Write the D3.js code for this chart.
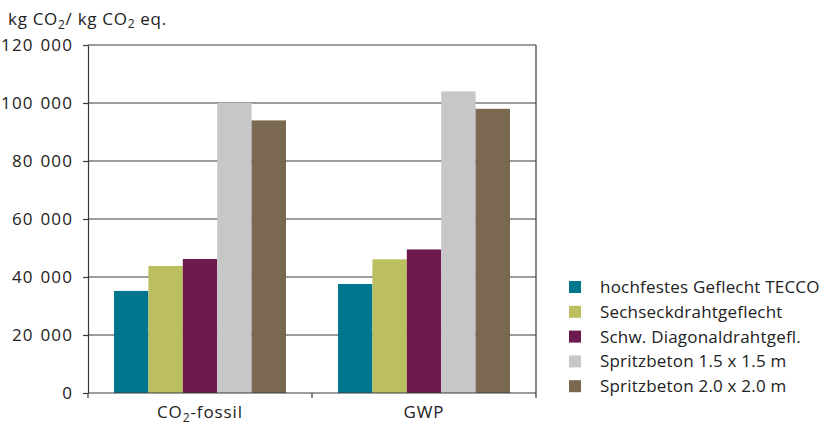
<!DOCTYPE html>
<html>
<head>
<meta charset="utf-8">
<script src="https://cdn.jsdelivr.net/npm/d3@7"></script>
<style>
  html, body { margin: 0; padding: 0; background: #fff; }
  svg text { font-family: "Open Sans", "Noto Sans", sans-serif; fill: #222; }
</style>
</head>
<body>
<svg id="chart" width="824" height="425"></svg>
<script>
// Emission categories and the five protection systems
const categories = ["CO2-fossil", "GWP"];
const series = [
  "hochfestes Geflecht TECCO",
  "Sechseckdrahtgeflecht",
  "Schw. Diagonaldrahtgefl.",
  "Spritzbeton 1.5 x 1.5 m",
  "Spritzbeton 2.0 x 2.0 m"
];
// values per series, one entry per category
const tecco       = [35200, 37600];
const sechseck    = [43800, 46100];
const diagonal    = [46200, 49500];
const spritz15    = [100000, 104000];
const spritz20    = [94000, 98000];
const seriesValues = [tecco, sechseck, diagonal, spritz15, spritz20];
const yTicks = [0, 20000, 40000, 60000, 80000, 100000, 120000];
const colors = ["#00768f", "#bcbf60", "#6d1b4f", "#c6c7c6", "#7a6950"];

const svg = d3.select("#chart");
const m = { left: 88, right: 536, top: 45, bottom: 393 };
const ink = "#3a3a3a";

const x = d3.scaleBand().domain(categories).range([m.left, m.right]).paddingInner(0).paddingOuter(0);
const inner = d3.scaleBand().domain(series).range([0, 172]);
const groupOffset = (x.bandwidth() - 172) / 2;
const y = d3.scaleLinear().domain([0, 120000]).range([m.bottom, m.top]);

// horizontal gridlines
svg.append("g").selectAll("line").data(yTicks.filter(d => d > 0)).join("line")
  .attr("x1", m.left).attr("x2", m.right)
  .attr("y1", d => y(d)).attr("y2", d => y(d))
  .attr("stroke", ink).attr("stroke-width", 1.2);

// bars
const flat = [];
categories.forEach((c, ci) => series.forEach((s, si) => flat.push({ c, s, si, v: seriesValues[si][ci] })));
svg.append("g").selectAll("rect").data(flat).join("rect")
  .attr("x", d => x(d.c) + groupOffset + inner(d.s))
  .attr("width", inner.bandwidth())
  .attr("y", d => y(d.v))
  .attr("height", d => y(0) - y(d.v))
  .attr("fill", d => colors[d.si]);

// frame: right border
svg.append("line").attr("x1", m.right).attr("x2", m.right).attr("y1", m.top).attr("y2", m.bottom)
  .attr("stroke", ink).attr("stroke-width", 1.2);

// y axis
const yAxis = d3.axisLeft(y).tickValues(yTicks).tickSize(5).tickSizeOuter(0)
  .tickFormat(d => d3.format(",")(d).replace(/,/g, " "));
const gy = svg.append("g").attr("transform", `translate(${m.left},0)`).call(yAxis);
gy.select(".domain").attr("stroke", ink).attr("stroke-width", 1.2);
gy.selectAll(".tick line").attr("stroke", ink).attr("stroke-width", 1.2);
gy.selectAll(".tick text").attr("x", -15).attr("font-size", 17).attr("fill", "#222")
  .attr("letter-spacing", 1.1).attr("word-spacing", 1.5)
  .style("font-family", '"Open Sans", "Noto Sans", sans-serif');

// x axis with ticks between categories
const gx = svg.append("g");
gx.append("line").attr("x1", m.left).attr("x2", m.right).attr("y1", m.bottom).attr("y2", m.bottom)
  .attr("stroke", ink).attr("stroke-width", 1.2);
const bounds = [m.left, x(categories[1]), m.right];
gx.selectAll(".bt").data(bounds).join("line")
  .attr("x1", d => d).attr("x2", d => d).attr("y1", m.bottom).attr("y2", m.bottom + 5)
  .attr("stroke", ink).attr("stroke-width", 1.2);

// category labels
const lab0 = svg.append("text").attr("x", x(categories[0]) + x.bandwidth() / 2).attr("y", 418)
  .attr("text-anchor", "middle").attr("font-size", 17).attr("letter-spacing", 0.9);
lab0.append("tspan").text("CO");
lab0.append("tspan").attr("font-size", 12).attr("dy", 4).text("2");
lab0.append("tspan").attr("dy", -4).text("-fossil");
svg.append("text").attr("x", x(categories[1]) + x.bandwidth() / 2).attr("y", 418)
  .attr("text-anchor", "middle").attr("font-size", 17).attr("letter-spacing", 0.9).text(categories[1]);

// unit label
const unit = svg.append("text").attr("x", 8).attr("y", 25).attr("font-size", 17).attr("letter-spacing", 0.7);
unit.append("tspan").text("kg CO");
unit.append("tspan").attr("font-size", 12).attr("dy", 4).text("2");
unit.append("tspan").attr("dy", -4).text("/ kg CO");
unit.append("tspan").attr("font-size", 12).attr("dy", 3).text("2");
unit.append("tspan").attr("dy", -3).text(" eq.");

// legend
const lg = svg.append("g").attr("transform", "translate(569,287)");
const rows = lg.selectAll("g").data(series).join("g")
  .attr("transform", (d, i) => `translate(0,${i * 24.8})`);
rows.append("rect").attr("x", 0).attr("y", -6).attr("width", 12).attr("height", 12)
  .attr("fill", (d, i) => colors[i]);
rows.append("text").attr("x", 31).attr("y", 6).attr("font-size", 17).attr("letter-spacing", 0.2).text(d => d);
</script>
</body>
</html>
